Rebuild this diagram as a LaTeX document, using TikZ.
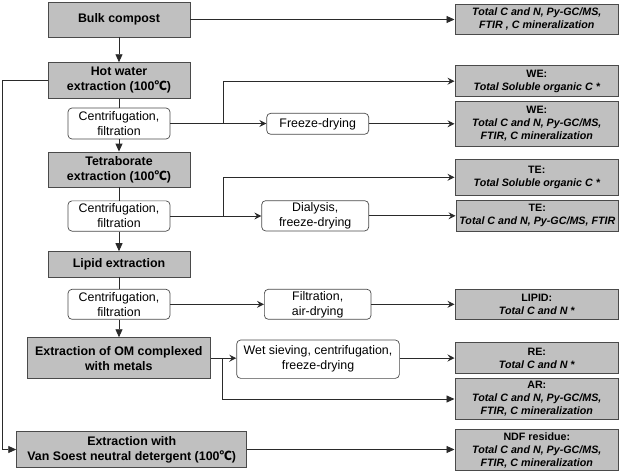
\documentclass[tikz,border=0pt]{standalone}
\usepackage{fontspec}
\setmainfont{Liberation Sans}
\newfontfamily\cjkfont{Noto Sans CJK SC}
\newcommand\degcel{{\cjkfont ℃}}
\usetikzlibrary{arrows.meta,calc}
\definecolor{boxfill}{HTML}{C0C0C0}
\definecolor{boxline}{HTML}{4A4A4A}
\definecolor{conn}{HTML}{2A2A2A}
\tikzset{
  graybox/.style={draw=boxline, fill=boxfill, line width=0.9pt, inner sep=0pt, align=center,
    font=\fontsize{12.4}{15}\selectfont\bfseries},
  resbox/.style={draw=boxline, fill=boxfill, line width=0.9pt, inner sep=0pt, align=center,
    font=\fontsize{10.7}{13}\selectfont\bfseries},
  stepbox/.style={draw=boxline, fill=white, rounded corners=4pt, line width=0.7pt, inner sep=0pt,
    align=center, font=\fontsize{12.4}{15}\selectfont},
  line/.style={draw=conn, line width=0.9pt},
  tri/.style={line, -{Triangle[length=8pt,width=7pt]}},
  stl/.style={line, -{Stealth[length=7pt,width=7pt,inset=2.5pt]}},
}
\begin{document}
\begin{tikzpicture}[x=1pt,y=-1pt]
\useasboundingbox (0,0) rectangle (623,474);
% left column
\node[graybox, minimum width=142, minimum height=35] (bulk) at (119,19.5) {Bulk compost};
\node[graybox, minimum width=142, minimum height=35.6] (hot) at (119,80.5) {Hot water\\extraction (100\degcel)};
\node[stepbox, minimum width=102, minimum height=31] (c1) at (119,123.5) {Centrifugation,\\filtration};
\node[graybox, minimum width=142, minimum height=35] (tet) at (119,169.5) {Tetraborate\\extraction (100\degcel)};
\node[stepbox, minimum width=102, minimum height=30.3] (c2) at (119,216) {Centrifugation,\\filtration};
\node[graybox, minimum width=142, minimum height=25.3] (lip) at (119,264.3) {Lipid extraction};
\node[stepbox, minimum width=102, minimum height=30] (c3) at (119,304.3) {Centrifugation,\\filtration};
\node[graybox, minimum width=183.7, minimum height=41] (om) at (118.8,358.2) {Extraction of OM complexed\\with metals};
\node[graybox, minimum width=230, minimum height=35.6] (van) at (131.7,449.5) {Extraction with\\Van Soest neutral detergent (100\degcel)};
% middle column
\node[stepbox, minimum width=102, minimum height=21] (fd) at (317.7,123.8) {Freeze-drying};
\node[stepbox, minimum width=107, minimum height=30.3] (dia) at (315.2,215.8) {Dialysis,\\freeze-drying};
\node[stepbox, minimum width=106.7, minimum height=30] (fil) at (317.7,304.3) {Filtration,\\air-drying};
\node[stepbox, minimum width=162.7, minimum height=38.3] (wet) at (318,359.2) {Wet sieving, centrifugation,\\freeze-drying};
% right column
\node[resbox, minimum width=163.7, minimum height=30.7] (r1) at (536.8,19.3) {\itshape Total C and N, Py-GC/MS,\\\itshape FTIR , C mineralization};
\node[resbox, minimum width=163.7, minimum height=31] (r2) at (536.8,81.2) {WE:\\\itshape Total Soluble organic C *};
\node[resbox, minimum width=163.7, minimum height=45.7] (r3) at (536.8,123.8) {WE:\\\itshape Total C and N, Py-GC/MS,\\\itshape FTIR, C mineralization};
\node[resbox, minimum width=163.7, minimum height=36] (r4) at (536.8,177.3) {TE:\\\itshape Total Soluble organic C *};
\node[resbox, minimum width=162.7, minimum height=30.7] (r5) at (537.3,215.7) {TE:\\\itshape Total C and N, Py-GC/MS, FTIR};
\node[resbox, minimum width=163.7, minimum height=30] (r6) at (536.8,304.3) {LIPID:\\\itshape Total C and N *};
\node[resbox, minimum width=163.7, minimum height=30.7] (r7) at (536.8,358) {RE:\\\itshape Total C and N *};
\node[resbox, minimum width=163.7, minimum height=40.7] (r8) at (536.8,399) {AR:\\\itshape Total C and N, Py-GC/MS,\\\itshape FTIR, C mineralization};
\node[resbox, minimum width=163.7, minimum height=41.3] (r9) at (536.8,450) {NDF residue:\\\itshape Total C and N, Py-GC/MS,\\\itshape FTIR, C mineralization};
% branch points
\coordinate (b1) at (223,123.5);
\coordinate (b2) at (223,216);
\coordinate (b3) at (222.7,358.2);
\coordinate (lft) at (2,0);
% vertical chain
\draw[tri] (bulk.south) -- (hot.north);
\draw[line] (hot.south) -- (c1.north);
\draw[tri] (c1.south) -- (tet.north);
\draw[line] (tet.south) -- (c2.north);
\draw[tri] (c2.south) -- (lip.north);
\draw[line] (lip.south) -- (c3.north);
\draw[tri] (c3.south) -- (c3.south |- om.north);
% horizontal
\draw[tri] (bulk.east) -- (bulk.east -| r1.west);
\draw[stl] (c1.east) -- (c1.east -| fd.west);
\draw[stl] (b1) |- (r2.west);
\draw[stl] (fd.east) -- (fd.east -| r3.west);
\draw[stl] (c2.east) -- (c2.east -| dia.west);
\draw[stl] (b2) |- (r4.west);
\draw[stl] (dia.east) -- (dia.east -| r5.west);
\draw[stl] (c3.east) -- (c3.east -| fil.west);
\draw[stl] (fil.east) -- (fil.east -| r6.west);
\draw[stl] (om.east) -- (om.east -| wet.west);
\draw[tri] (b3) |- (r8.west);
\draw[stl] (wet.east |- r7.west) -- (r7.west);
\draw[tri] (hot.west) -- (hot.west -| lft) |- (van.west);
\draw[tri] (van.east) -- (van.east -| r9.west);
\end{tikzpicture}
\end{document}
